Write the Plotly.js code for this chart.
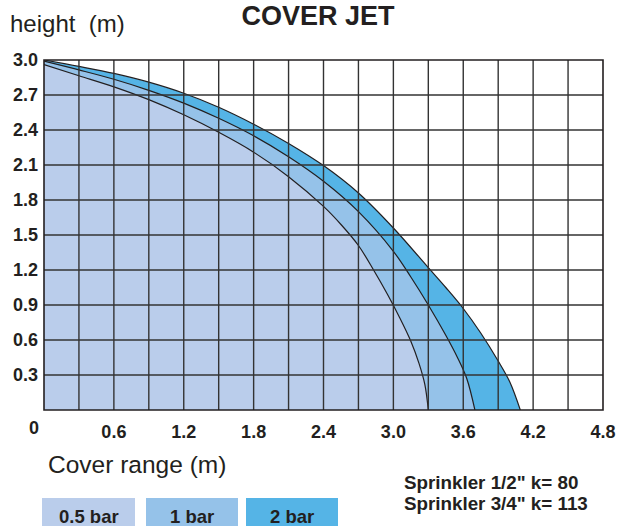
<!DOCTYPE html>
<html>
<head>
<meta charset="utf-8">
<script src="https://cdn.plot.ly/plotly-3.0.1.min.js"></script>
<style>
html,body{margin:0;padding:0;background:#fff;}
#chart{width:620px;height:526px;}
</style>
</head>
<body>
<div id="chart"></div>
<script>
// ---- data ----
const seriesNames = ['0.5 bar', '1 bar', '2 bar'];

const range2bar  = [0, 0.3, 0.6, 0.9, 1.2, 1.5, 1.8, 2.1, 2.4, 2.7, 3.0, 3.3, 3.45, 3.6, 3.75, 3.9, 4.0, 4.09];
const height2bar = [3.0, 2.945, 2.885, 2.81, 2.715, 2.595, 2.45, 2.285, 2.095, 1.86, 1.56, 1.22, 1.05, 0.87, 0.66, 0.42, 0.24, 0];

const range1bar  = [0, 0.3, 0.6, 0.9, 1.2, 1.5, 1.8, 2.1, 2.4, 2.7, 3.0, 3.15, 3.3, 3.45, 3.55, 3.63, 3.70];
const height1bar = [2.99, 2.915, 2.835, 2.74, 2.63, 2.5, 2.35, 2.17, 1.96, 1.70, 1.36, 1.14, 0.9, 0.64, 0.45, 0.27, 0];

const range05bar  = [0, 0.3, 0.6, 0.9, 1.2, 1.5, 1.8, 2.1, 2.4, 2.55, 2.7, 2.83, 2.95, 3.05, 3.15, 3.22, 3.27, 3.30];
const height05bar = [2.96, 2.865, 2.77, 2.66, 2.53, 2.38, 2.21, 2.0, 1.745, 1.59, 1.41, 1.2, 0.99, 0.8, 0.59, 0.4, 0.22, 0];

const xTickVals = [0.6, 1.2, 1.8, 2.4, 3.0, 3.6, 4.2, 4.8];
const xTickText = ['0.6', '1.2', '1.8', '2.4', '3.0', '3.6', '4.2', '4.8'];
const yTickVals = [0.3, 0.6, 0.9, 1.2, 1.5, 1.8, 2.1, 2.4, 2.7, 3.0];
const yTickText = ['0.3', '0.6', '0.9', '1.2', '1.5', '1.8', '2.1', '2.4', '2.7', '3.0'];
const xGridVals = [0.3, 0.6, 0.9, 1.2, 1.5, 1.8, 2.1, 2.4, 2.7, 3.0, 3.3, 3.6, 3.9, 4.2, 4.5];
const yGridVals = [0.3, 0.6, 0.9, 1.2, 1.5, 1.8, 2.1, 2.4, 2.7];

const sprinklerNotes = ['Sprinkler 1/2" k= 80', 'Sprinkler 3/4" k= 113'];

// ---- styling ----
const fillColors = ['#bacdeb', '#95c2e9', '#55b4e6'];
const ink = '#231f20';
const FONT = 'Liberation Sans, Arial, Helvetica, sans-serif';

const W = 620, H = 526;
const M = {l: 44, r: 17, t: 60, b: 116};
const PW = W - M.l - M.r, PH = H - M.t - M.b;
const px = v => (v - M.l) / PW;             // pixel x -> paper x
const py = v => (H - M.b - v) / PH;         // pixel y -> paper y

function trace(xs, ys, color, name) {
  return {
    x: xs, y: ys, type: 'scatter', mode: 'lines', name: name,
    line: {color: ink, width: 1.2, shape: 'spline', smoothing: 1},
    fill: 'tozeroy', fillcolor: color, hoverinfo: 'skip'
  };
}

const data = [
  trace(range2bar, height2bar, fillColors[2], seriesNames[2]),
  trace(range1bar, height1bar, fillColors[1], seriesNames[1]),
  trace(range05bar, height05bar, fillColors[0], seriesNames[0])
];

const shapes = [];
xGridVals.forEach(v => shapes.push({type: 'line', xref: 'x', yref: 'paper', x0: v, x1: v, y0: 0, y1: 1,
  line: {color: '#333333', width: 1.4}, layer: 'above'}));
yGridVals.forEach(v => shapes.push({type: 'line', xref: 'paper', yref: 'y', x0: 0, x1: 1, y0: v, y1: v,
  line: {color: '#333333', width: 1.4}, layer: 'above'}));
shapes.push({type: 'rect', xref: 'paper', yref: 'paper', x0: 0, x1: 1, y0: 0, y1: 1,
  line: {color: ink, width: 1.6}, layer: 'above'});

// legend boxes
const boxPx = [[42, 135], [146, 238], [246, 338]];
const annotations = [];
boxPx.forEach((b, i) => {
  shapes.push({type: 'rect', xref: 'paper', yref: 'paper', x0: px(b[0]), x1: px(b[1]), y0: py(498), y1: py(527),
    fillcolor: fillColors[i], line: {width: 0}, layer: 'above'});
  annotations.push({xref: 'paper', yref: 'paper', x: px((b[0] + b[1]) / 2), y: py(516), xanchor: 'center', yanchor: 'middle',
    text: '<b>' + seriesNames[i] + '</b>', showarrow: false, font: {family: FONT, size: 18.5, color: ink}});
});

// faint decoration, top-right
shapes.push({type: 'circle', xref: 'paper', yref: 'paper', x0: px(611), x1: px(760), y0: py(24), y1: py(-120),
  fillcolor: '#e9eff9', line: {width: 0}, layer: 'below'});

annotations.push({xref: 'paper', yref: 'paper', x: px(34), y: py(428), xanchor: 'center', yanchor: 'middle',
  text: '<b>0</b>', showarrow: false, font: {family: FONT, size: 18, color: ink}});
annotations.push({xref: 'paper', yref: 'paper', x: px(8), y: py(23), xanchor: 'left', yanchor: 'middle',
  text: 'height&nbsp; (m)', showarrow: false, font: {family: FONT, size: 24, color: ink}});
annotations.push({xref: 'paper', yref: 'paper', x: px(46), y: py(465), xanchor: 'left', yanchor: 'middle',
  text: 'Cover range (m)', showarrow: false, font: {family: FONT, size: 24.5, color: ink}});
annotations.push({xref: 'paper', yref: 'paper', x: px(402), y: py(482), xanchor: 'left', yanchor: 'middle',
  text: '<b>' + sprinklerNotes[0] + '</b>', showarrow: false, font: {family: FONT, size: 18.8, color: ink}});
annotations.push({xref: 'paper', yref: 'paper', x: px(402), y: py(503), xanchor: 'left', yanchor: 'middle',
  text: '<b>' + sprinklerNotes[1] + '</b>', showarrow: false, font: {family: FONT, size: 18.8, color: ink}});

const layout = {
  width: W, height: H,
  margin: M,
  paper_bgcolor: '#ffffff', plot_bgcolor: '#ffffff',
  showlegend: false,
  title: {text: '<b>COVER JET</b>', x: 318 / W, xref: 'container', xanchor: 'center',
          y: 1 - 16 / H, yref: 'container', yanchor: 'middle',
          font: {family: FONT, size: 27, color: ink}},
  xaxis: {range: [0, 4.8], showgrid: false, zeroline: false, showline: false, ticks: '',
          tickmode: 'array', tickvals: xTickVals, ticktext: xTickText, ticklabelstandoff: 9,
          tickfont: {family: FONT, size: 18, color: ink, weight: 'bold'}, fixedrange: true},
  yaxis: {range: [0, 3.0], showgrid: false, zeroline: false, showline: false, ticks: '',
          tickmode: 'array', tickvals: yTickVals, ticktext: yTickText, ticklabelstandoff: 5,
          tickfont: {family: FONT, size: 18, color: ink, weight: 'bold'}, fixedrange: true},
  shapes: shapes,
  annotations: annotations
};

Plotly.newPlot('chart', data, layout, {displayModeBar: false, staticPlot: true});
</script>
</body>
</html>
